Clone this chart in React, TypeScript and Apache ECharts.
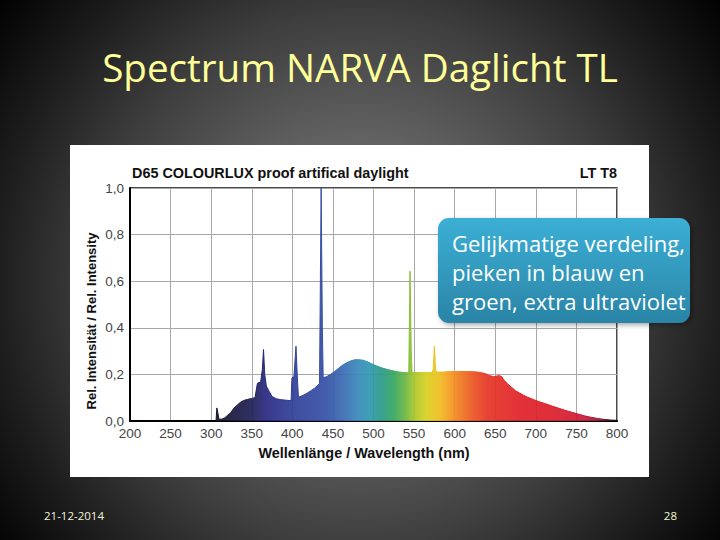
import React, { useEffect, useRef } from "react";
import * as echarts from "echarts";

// ---- data ----
const wavelengths = [
  306, 307, 308.5, 309.5, 313, 317, 320, 324, 328, 332, 336, 340, 345, 350, 354, 357, 361, 363, 364.5, 366, 368,
  371, 375, 380, 385, 390, 396, 398.5, 399.5, 402, 404.5, 406, 407.5, 412, 417, 422, 427, 432, 433.5, 435.5, 437,
  438, 442, 447, 452, 457, 462, 467, 472, 477, 482, 487, 492, 497, 502, 507, 512, 517, 522, 527, 532, 537, 542,
  543.5, 545, 546.5, 547.5, 555, 565, 572, 573.5, 575, 576.5, 578, 585, 595, 605, 615, 625, 632, 638, 643, 648,
  655, 658, 661, 665, 670, 675, 680, 685, 690, 697, 705, 712, 720, 728, 736, 744, 752, 760, 768, 776, 784, 792, 800,
];
const intensities = [
  0, 0.056, 0.03, 0.008, 0.008, 0.014, 0.024, 0.035, 0.055, 0.068, 0.08, 0.088, 0.093, 0.097, 0.1, 0.162, 0.168,
  0.22, 0.307, 0.2, 0.15, 0.13, 0.105, 0.096, 0.092, 0.09, 0.088, 0.088, 0.185, 0.19, 0.321, 0.2, 0.102, 0.108,
  0.117, 0.128, 0.14, 0.155, 0.162, 1.0, 0.4, 0.186, 0.19, 0.2, 0.212, 0.226, 0.24, 0.25, 0.258, 0.263, 0.263,
  0.261, 0.255, 0.247, 0.239, 0.232, 0.226, 0.221, 0.217, 0.213, 0.21, 0.208, 0.207, 0.21, 0.643, 0.3, 0.208,
  0.208, 0.208, 0.208, 0.22, 0.322, 0.22, 0.21, 0.21, 0.212, 0.212, 0.212, 0.211, 0.208, 0.203, 0.195, 0.19,
  0.195, 0.19, 0.175, 0.16, 0.145, 0.13, 0.12, 0.11, 0.102, 0.092, 0.082, 0.074, 0.064, 0.055, 0.046, 0.038,
  0.03, 0.022, 0.016, 0.011, 0.007, 0.004, 0.003,
];

const slideTitle = "Spectrum NARVA Daglicht TL";
const chartTitle = "D65 COLOURLUX proof artifical daylight";
const chartTag = "LT T8";
const yAxisTitle = "Rel. Intensität / Rel. Intensity";
const xAxisTitle = "Wellenlänge / Wavelength (nm)";
const calloutLines = ["Gelijkmatige verdeling,", "pieken in blauw en", "groen, extra ultraviolet"];
const footerDate = "21-12-2014";
const footerPage = "28";

// spectrum colour stops (wavelength -> colour)
const spectrumStopWl = [306, 330, 350, 370, 390, 410, 440, 460, 480, 495, 510, 525, 540, 552, 565, 580, 592, 605, 620, 640, 680, 730, 760, 780, 792, 800];
const spectrumStopColors = [
  "#15152a", "#1a1a42", "#202056", "#2a2a85", "#2f3890", "#32449a", "#3550a5", "#3a68b0", "#3a88bc", "#3098b0",
  "#2a9a88", "#35a660", "#70b840", "#b0c828", "#d8d020", "#eec020", "#f5a020", "#f08020", "#ec5a22", "#e53525",
  "#e02228", "#da1e2e", "#c81a3a", "#901838", "#401018", "#101010",
];

export default function App() {
  const ref = useRef<HTMLDivElement>(null);

  useEffect(() => {
    document.body.style.margin = "0";
    const chart = echarts.init(ref.current!, null, { renderer: "svg" });

    const wMin = Math.min(...wavelengths);
    const wMax = Math.max(...wavelengths);
    const stops = spectrumStopWl.map((w, i) => ({
      offset: Math.max(0, Math.min(1, (w - wMin) / (wMax - wMin))),
      color: spectrumStopColors[i],
    }));
    const grad = () => new echarts.graphic.LinearGradient(0, 0, 1, 0, stops);

    const data = wavelengths.map((w, i) => [w, intensities[i]]);
    const labelFont = "Liberation Sans, Arial, sans-serif";

    const option: any = {
      animation: false,
      grid: {
        left: 130,
        right: 103,
        top: 188,
        bottom: 119,
        show: true,
        borderColor: "#111",
        borderWidth: 1.5,
        backgroundColor: "transparent",
      },
      xAxis: {
        type: "value",
        min: 200,
        max: 800,
        interval: 50,
        axisLine: { show: true, onZero: false, lineStyle: { color: "#000", width: 2 } },
        axisTick: { show: false },
        axisLabel: { color: "#444", fontSize: 13.5, fontFamily: labelFont, margin: 5 },
        splitLine: { show: true, lineStyle: { color: "#a8a8a8", width: 1 } },
      },
      yAxis: {
        type: "value",
        min: 0,
        max: 1,
        interval: 0.2,
        axisLine: { show: true, lineStyle: { color: "#000", width: 2 } },
        axisTick: { show: false },
        axisLabel: {
          color: "#444",
          fontSize: 13.5,
          fontFamily: labelFont,
          margin: 6,
          formatter: (v: number) => v.toFixed(1).replace(".", ","),
        },
        splitLine: { show: true, lineStyle: { color: "#a8a8a8", width: 1 } },
      },
      series: [
        {
          type: "line",
          data,
          symbol: "none",
          showSymbol: false,
          clip: true,
          z: 2,
          lineStyle: { width: 1, color: grad() },
          areaStyle: { color: grad(), opacity: 0.93 },
        },
      ],
      graphic: [
        {
          type: "rect",
          z: -2,
          silent: true,
          shape: { x: 0, y: 0, width: 720, height: 540 },
          style: {
            fill: new echarts.graphic.RadialGradient(
              360,
              280,
              460,
              [
                { offset: 0, color: "#747474" },
                { offset: 0.3, color: "#636363" },
                { offset: 0.58, color: "#3e3e3e" },
                { offset: 0.8, color: "#1c1c1c" },
                { offset: 1, color: "#000000" },
              ],
              true
            ),
          },
        },
        {
          type: "rect",
          z: -1,
          silent: true,
          shape: { x: 70, y: 145, width: 579, height: 332 },
          style: { fill: "#ffffff" },
        },
        {
          type: "text",
          z: 5,
          style: {
            text: slideTitle,
            x: 360,
            y: 67,
            fill: "#ffff99",
            font: "38.6px 'Open Sans', sans-serif",
            textAlign: "center",
            textVerticalAlign: "middle",
          },
        },
        {
          type: "text",
          z: 5,
          style: {
            text: chartTitle,
            x: 132,
            y: 173,
            fill: "#111",
            font: "bold 14.4px 'Liberation Sans', Arial, sans-serif",
            textAlign: "left",
            textVerticalAlign: "middle",
          },
        },
        {
          type: "text",
          z: 5,
          style: {
            text: chartTag,
            x: 617,
            y: 173,
            fill: "#111",
            font: "bold 14.4px 'Liberation Sans', Arial, sans-serif",
            textAlign: "right",
            textVerticalAlign: "middle",
          },
        },
        {
          type: "text",
          z: 5,
          x: 91,
          y: 321,
          rotation: Math.PI / 2,
          style: {
            text: yAxisTitle,
            x: 0,
            y: 0,
            fill: "#111",
            font: "bold 13px 'Liberation Sans', Arial, sans-serif",
            textAlign: "center",
            textVerticalAlign: "middle",
          },
        },
        {
          type: "text",
          z: 5,
          style: {
            text: xAxisTitle,
            x: 364,
            y: 453,
            fill: "#111",
            font: "bold 14.4px 'Liberation Sans', Arial, sans-serif",
            textAlign: "center",
            textVerticalAlign: "middle",
          },
        },
        {
          type: "rect",
          z: 10,
          silent: true,
          shape: { x: 438, y: 218, width: 252, height: 105, r: 11 },
          style: {
            fill: new echarts.graphic.LinearGradient(0, 0, 0, 1, [
              { offset: 0, color: "#3cafd5" },
              { offset: 1, color: "#2a84a6" },
            ]),
            shadowBlur: 5,
            shadowColor: "rgba(0,0,0,0.35)",
            shadowOffsetX: 2,
            shadowOffsetY: 2,
          },
        },
        ...calloutLines.map((t, i) => ({
          type: "text",
          z: 11,
          style: {
            text: t,
            x: 452,
            y: 243 + i * 29,
            fill: "#ffffff",
            font: "22px 'Open Sans', sans-serif",
            textAlign: "left",
            textVerticalAlign: "middle",
          },
        })),
        {
          type: "text",
          z: 5,
          style: {
            text: footerDate,
            x: 44,
            y: 515,
            fill: "#f4f4d8",
            font: "11.5px 'Open Sans', sans-serif",
            textAlign: "left",
            textVerticalAlign: "middle",
          },
        },
        {
          type: "text",
          z: 5,
          style: {
            text: footerPage,
            x: 677,
            y: 515,
            fill: "#f4f4d8",
            font: "11.5px 'Open Sans', sans-serif",
            textAlign: "right",
            textVerticalAlign: "middle",
          },
        },
      ],
    };

    chart.setOption(option);
    return () => chart.dispose();
  }, []);

  return <div ref={ref} style={{ position: "absolute", left: 0, top: 0, width: 720, height: 540 }} />;
}
